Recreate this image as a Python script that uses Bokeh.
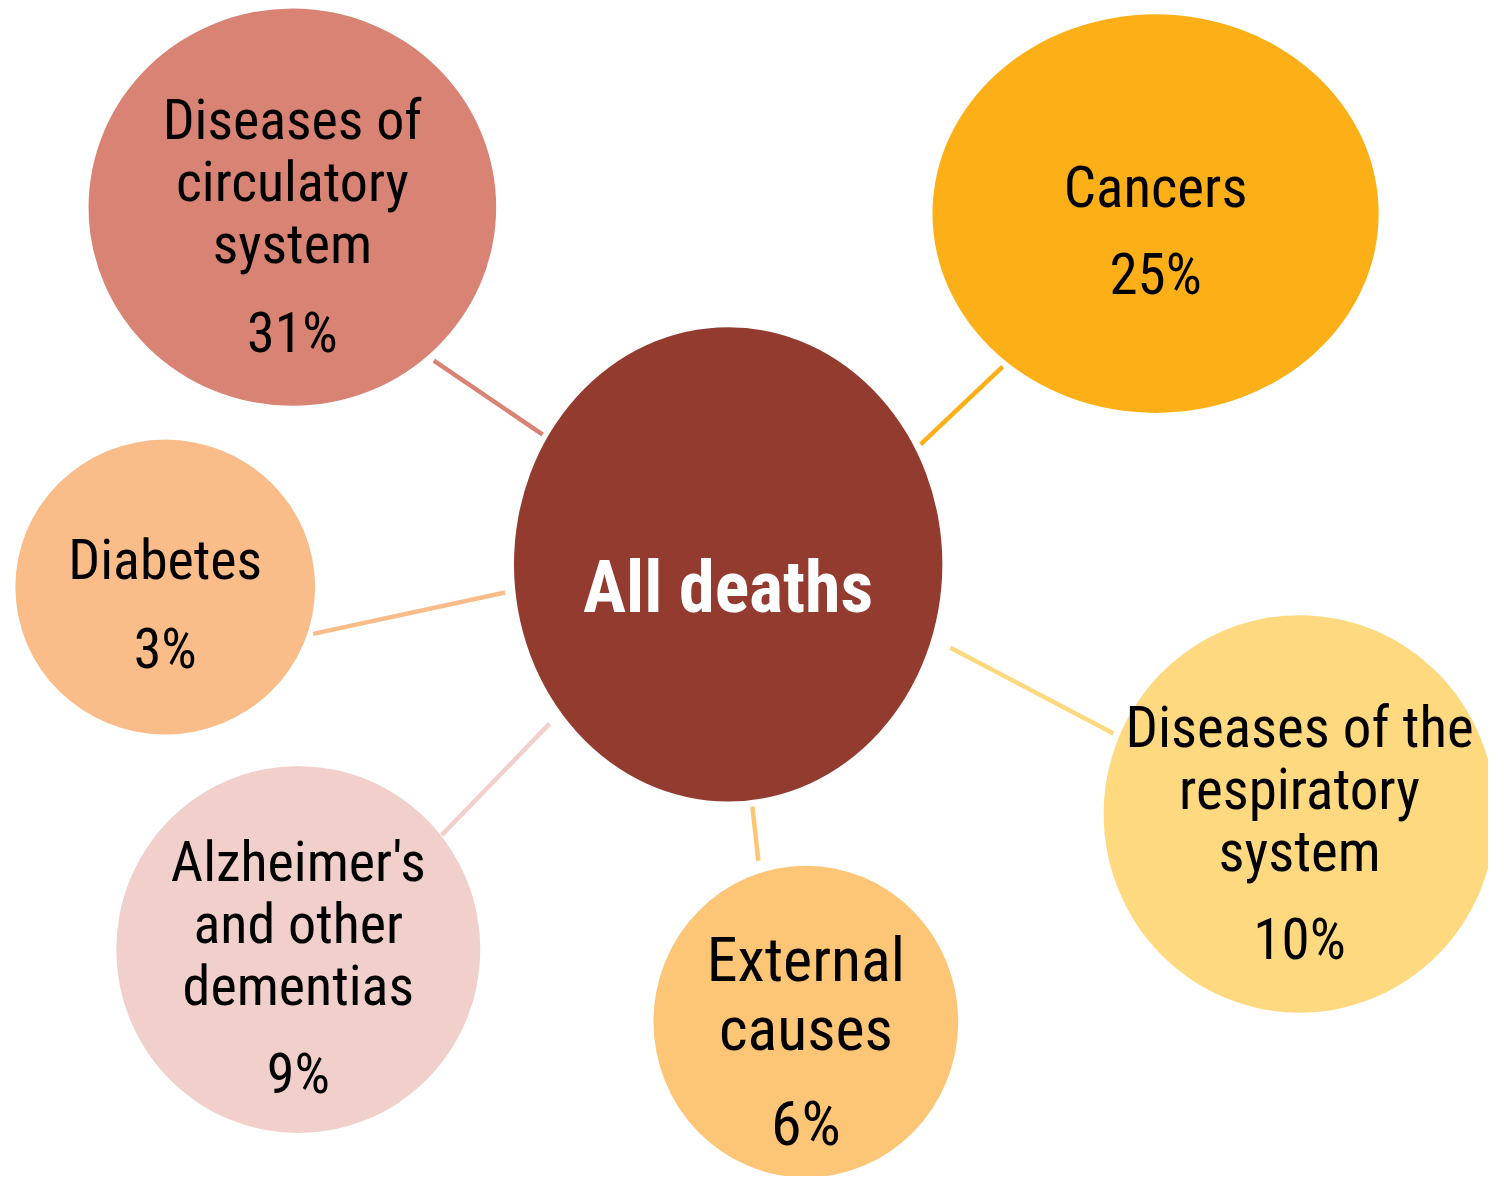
from bokeh.plotting import figure
from bokeh.models import Range1d
from bokeh.core.properties import value
from bokeh.embed import file_html
from bokeh.resources import INLINE

# ---- data ----
center_label = "All deaths"
causes = ["Diseases of\ncirculatory\nsystem", "Cancers", "Diabetes",
          "Alzheimer's\nand other\ndementias", "External\ncauses",
          "Diseases of the\nrespiratory\nsystem"]
shares = [31, 25, 3, 9, 6, 10]

# ---- styling / layout (pixel coordinates of the canvas) ----
colors = ["#D88373", "#FCAF17", "#FABD8A", "#F1D0CB", "#FDC576", "#FED97F"]
center_color = "#943B2F"
bx = [295, 1167.5, 166.5, 301, 814, 1313]
by = [209.5, 216, 594.5, 962, 1035, 824.5]
bw = [412, 451, 303, 368, 308, 396]
bh = [403, 404, 299, 372, 316, 403]
first_base = [121, 190, 567, 873, 972, 737]
line_gap = [63, 63, 63, 63, 70, 63]
pct_gap = [90, 88, 90, 89, 96, 89]
fsize = [56, 57, 56, 56, 62, 57]
conn = [((438, 365), (548, 440)), ((1013, 371), (930, 450)),
        ((316, 642), (510, 600)), ((446, 846), (555, 733)),
        ((766, 872), (760, 817)), ((1125, 743), (960, 656))]
cx, cy, cw, ch = 735.5, 571.5, 433, 481

FONT = "Roboto Condensed"

p = figure(width=1488, height=1176, output_backend="svg", toolbar_location=None,
           x_range=Range1d(0, 1504), y_range=Range1d(1192, 0),
           min_border=0, outline_line_color=None)
p.axis.visible = False
p.grid.visible = False
p.background_fill_color = "white"

# connectors
p.segment(x0=[c[0][0] for c in conn], y0=[c[0][1] for c in conn],
          x1=[c[1][0] for c in conn], y1=[c[1][1] for c in conn],
          line_color=colors, line_width=4.5)

# bubbles
p.ellipse(x=[cx], y=[cy], width=[cw], height=[ch], fill_color=center_color,
          line_color=None)
p.ellipse(x=bx, y=by, width=bw, height=bh, fill_color=colors, line_color=None)

# texts
tx, ty, tt, ts = [], [], [], []
for i, lab in enumerate(causes):
    lines = lab.split("\n")
    for j, ln in enumerate(lines):
        tx.append(bx[i]); ty.append(first_base[i] + j * line_gap[i]); tt.append(ln)
        ts.append(f"{fsize[i]}px")
    tx.append(bx[i]); ty.append(first_base[i] + (len(lines) - 1) * line_gap[i] + pct_gap[i])
    tt.append(f"{shares[i]}%"); ts.append(f"{fsize[i]}px")

p.text(x=tx, y=ty, text=tt, text_font_size=ts, text_align="center",
       text_baseline="alphabetic", text_color="black", text_font=value(FONT))
p.text(x=[cx], y=[595], text=[center_label], text_font_size="72px",
       text_font_style="bold", text_align="center", text_baseline="alphabetic",
       text_color="white", text_font=value(FONT))

open("out.html", "w").write(file_html(p, INLINE))
